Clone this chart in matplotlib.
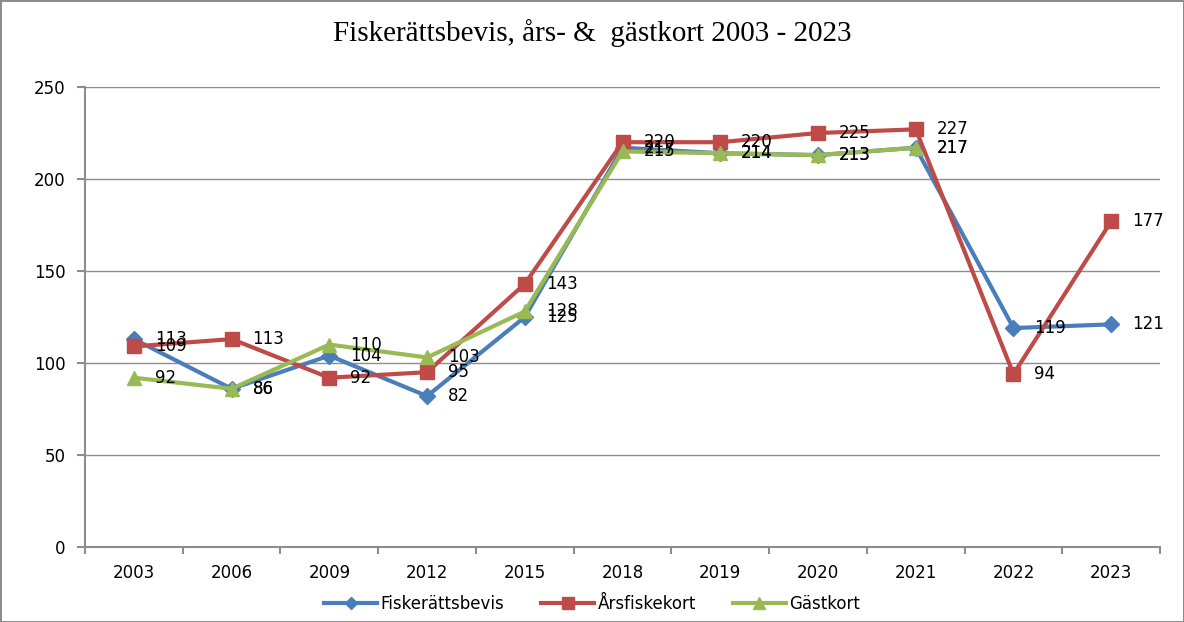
import matplotlib.pyplot as plt
import numpy as np

years = ["2003", "2006", "2009", "2012", "2015", "2018", "2019", "2020", "2021", "2022", "2023"]
fiskerattsbevis = [113, 86, 104, 82, 125, 217, 214, 213, 217, 119, 121]
arsfiskekort = [109, 113, 92, 95, 143, 220, 220, 225, 227, 94, 177]
gastkort = [92, 86, 110, 103, 128, 215, 214, 213, 217, np.nan, np.nan]

plot_title = "Fiskerättsbevis, års- &  gästkort 2003 - 2023"

plt.rcParams["font.family"] = "DejaVu Sans"

fig = plt.figure(figsize=(11.84, 6.22), dpi=100)
fig.patch.set_edgecolor("#8c8c8c")
fig.patch.set_linewidth(2)
ax = fig.add_axes([0.0718, 0.1206, 0.908, 0.7395])

x = np.arange(len(years))
series = [
    (fiskerattsbevis, "Fiskerättsbevis", "#4a7ebb", "D", 8),
    (arsfiskekort, "Årsfiskekort", "#be4b48", "s", 10.5),
    (gastkort, "Gästkort", "#98b954", "^", 10),
]
for vals, name, col, mk, ms in series:
    ax.plot(x, vals, color=col, lw=3, marker=mk, markersize=ms, label=name, zorder=3)

# data labels to the right of each point
for vals, name, col, mk, ms in series:
    for xi, v in zip(x, vals):
        if np.isnan(v):
            continue
        ax.annotate(str(int(v)), (xi, v), xytext=(15, 0), textcoords="offset points",
                    va="center", ha="left", fontsize=12, color="black", zorder=4)

ax.set_ylim(0, 250)
ax.set_yticks(range(0, 251, 50))
ax.set_xlim(-0.5, len(years) - 0.5)
ax.set_xticks(x)
ax.set_xticklabels(years)
ax.set_xticks(np.arange(-0.5, len(years)), minor=True)
ax.tick_params(axis="x", which="major", length=0, pad=12, labelsize=12)
ax.tick_params(axis="x", which="minor", length=5, color="#8c8c8c", width=1.5)
ax.tick_params(axis="y", length=6, color="#8c8c8c", width=1.5, pad=8, labelsize=12)

ax.grid(axis="y", color="#8c8c8c", lw=1)
ax.set_axisbelow(True)
for s in ["top", "right"]:
    ax.spines[s].set_visible(False)
for s in ["left", "bottom"]:
    ax.spines[s].set_color("#8c8c8c")
    ax.spines[s].set_linewidth(1.5)

fig.text(0.5, 0.947, plot_title, ha="center", va="center", fontsize=21, family="Liberation Serif")

leg = fig.legend(loc="center", bbox_to_anchor=(0.5, 0.029), ncol=3, frameon=False, fontsize=12,
                 handlelength=3.2, columnspacing=2.2, handletextpad=0.2, markerscale=0.8)

fig.savefig("out.png", dpi=100)
